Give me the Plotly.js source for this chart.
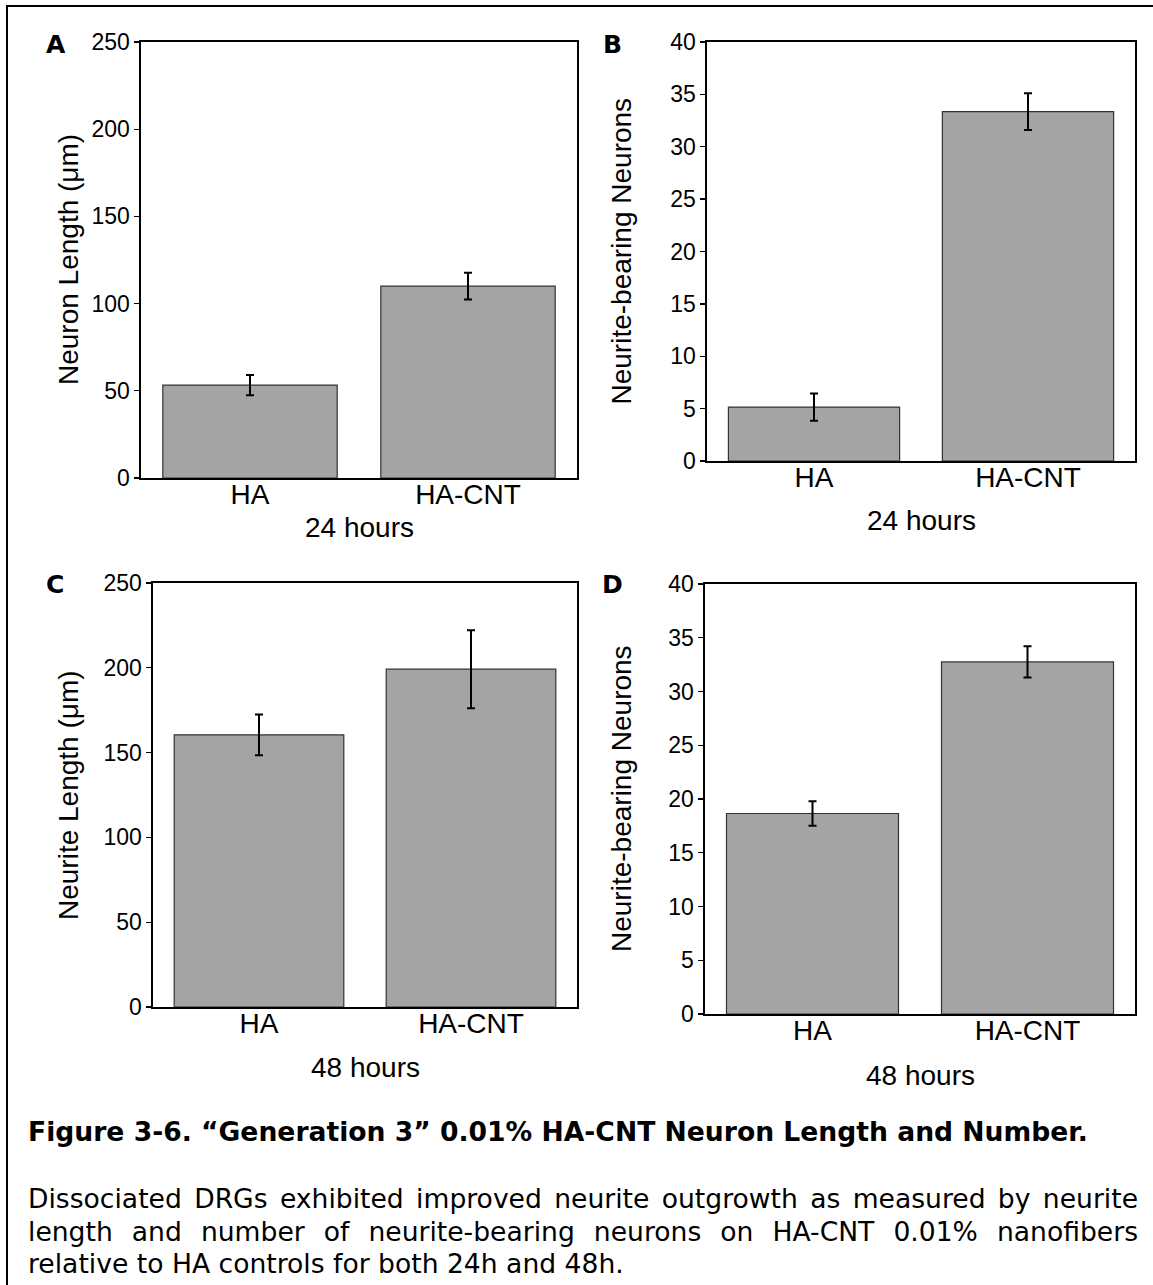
<!DOCTYPE html>
<html>
<head>
<meta charset="utf-8">
<script src="https://cdn.plot.ly/plotly-3.0.1.min.js"></script>
<style>
  html, body { margin: 0; padding: 0; background: #fff; }
  #page { position: relative; width: 1153px; height: 1285px; overflow: hidden; background: #fff; }
  #frameTop { position: absolute; left: 6px; top: 5px; width: 1147px; height: 2px; background: #000; }
  #frameLeft { position: absolute; left: 6px; top: 5px; width: 2px; height: 1280px; background: #000; }
  #chart { position: absolute; left: 0; top: 0; width: 1153px; height: 1090px; }
  .cap { position: absolute; left: 28px; width: 1110px; font-family: "DejaVu Sans", Verdana, sans-serif; color: #000; white-space: nowrap; }
  #capTitle { top: 1115px; font-size: 26.6px; font-weight: bold; line-height: 33px; }
  .body { font-size: 26.6px; line-height: 33px; }
  .just { text-align: justify; text-align-last: justify; }
</style>
</head>
<body>
<div id="page">
  <div id="chart"></div>
  <div id="frameTop"></div>
  <div id="frameLeft"></div>
  <div id="capTitle" class="cap">Figure 3-6. “Generation 3” 0.01% HA-CNT Neuron Length and Number.</div>
  <div class="cap body just" style="top:1182px;">Dissociated DRGs exhibited improved neurite outgrowth as measured by neurite</div>
  <div class="cap body just" style="top:1215px;">length and number of neurite-bearing neurons on HA-CNT 0.01% nanofibers</div>
  <div class="cap body" style="top:1247px;">relative to HA controls for both 24h and 48h.</div>
</div>
<script>
// ---- data ----
const categories = ['HA', 'HA-CNT'];
const neuronLength24 = [53.3, 110];
const neuronLength24Err = [5.8, 7.7];
const neuriteBearing24 = [5.15, 33.35];
const neuriteBearing24Err = [1.3, 1.75];
const neuriteLength48 = [160.5, 199.2];
const neuriteLength48Err = [12, 23];
const neuriteBearing48 = [18.65, 32.75];
const neuriteBearing48Err = [1.15, 1.45];
const panelLetters = ['A', 'B', 'C', 'D'];
const yTitles = ['Neuron Length (μm)', 'Neurite-bearing Neurons', 'Neurite Length (μm)', 'Neurite-bearing Neurons'];
const xTitles = ['24 hours', '24 hours', '48 hours', '48 hours'];
const yMax = [250, 40, 250, 40];
const yStep = [50, 5, 50, 5];

// ---- layout helpers (pixel boxes of each plot area) ----
const W = 1153, H = 1090;
const fx = p => p / W;
const fy = p => 1 - p / H;
const boxes = [
  {l: 141, r: 577, t: 42, b: 478, letter: [56, 44], ytitle: 68, xtitle: 527},
  {l: 707, r: 1135, t: 42, b: 461, letter: [613, 44], ytitle: 621, xtitle: 520},
  {l: 153, r: 577, t: 583, b: 1007, letter: [55, 584], ytitle: 68, xtitle: 1067},
  {l: 705, r: 1135, t: 584, b: 1014, letter: [613, 584], ytitle: 621, xtitle: 1075}
];
const series = [neuronLength24, neuriteBearing24, neuriteLength48, neuriteBearing48];
const errs = [neuronLength24Err, neuriteBearing24Err, neuriteLength48Err, neuriteBearing48Err];

const FONT = '"Liberation Sans", Arial, sans-serif';
const traces = [];
const layout = {
  width: W, height: H,
  margin: {l: 0, r: 0, t: 0, b: 0},
  paper_bgcolor: 'rgba(0,0,0,0)',
  plot_bgcolor: '#fff',
  showlegend: false,
  bargap: 0.2,
  font: {family: FONT, color: '#000'},
  annotations: []
};

boxes.forEach((bx, i) => {
  const n = i + 1;
  const xa = n === 1 ? 'x' : 'x' + n;
  const ya = n === 1 ? 'y' : 'y' + n;
  traces.push({
    type: 'bar', x: categories, y: series[i],
    xaxis: xa, yaxis: ya,
    marker: {color: '#a4a4a4', line: {color: '#333333', width: 1.2}},
    error_y: {type: 'data', array: errs[i], visible: true, color: '#000', thickness: 2, width: 4},
    hoverinfo: 'skip'
  });
  layout['xaxis' + (n === 1 ? '' : n)] = {
    domain: [fx(bx.l), fx(bx.r)], anchor: ya,
    type: 'category', range: [-0.5, 1.5],
    showline: true, mirror: true, linecolor: '#000', linewidth: 1.6,
    ticks: '', showgrid: false, zeroline: false,
    ticklabelstandoff: -9,
    tickfont: {family: FONT, size: 28, color: '#000'}
  };
  layout['yaxis' + (n === 1 ? '' : n)] = {
    domain: [fy(bx.b), fy(bx.t)], anchor: xa,
    range: [0, yMax[i]], dtick: yStep[i], tick0: 0,
    showline: true, mirror: true, linecolor: '#000', linewidth: 1.6,
    ticks: 'outside', ticklen: 5, tickwidth: 1.3, tickcolor: '#000',
    showgrid: false, zeroline: false,
    tickfont: {family: FONT, size: 23, color: '#000'}
  };
  // right-side inner ticks
  layout['yaxis' + (n + 4)] = {
    overlaying: ya, anchor: xa, side: 'right',
    range: [0, yMax[i]], dtick: yStep[i], tick0: 0,
    showline: false, showgrid: false, zeroline: false,
    ticks: 'inside', ticklen: 8, tickwidth: 1.3, tickcolor: '#000',
    showticklabels: false
  };
  layout.annotations.push(
    {xref: 'paper', yref: 'paper', x: fx(bx.letter[0]), y: fy(bx.letter[1]), text: '<b>' + panelLetters[i] + '</b>',
     showarrow: false, xanchor: 'center', yanchor: 'middle',
     font: {family: '"DejaVu Sans", sans-serif', size: 25, color: '#000'}},
    {xref: 'paper', yref: 'paper', x: fx(bx.ytitle), y: fy((bx.t + bx.b) / 2), text: yTitles[i],
     textangle: -90, showarrow: false, xanchor: 'center', yanchor: 'middle',
     font: {family: FONT, size: 28, color: '#000'}},
    {xref: 'paper', yref: 'paper', x: fx((bx.l + bx.r) / 2), y: fy(bx.xtitle), text: xTitles[i],
     showarrow: false, xanchor: 'center', yanchor: 'middle',
     font: {family: FONT, size: 28, color: '#000'}}
  );
});

Plotly.newPlot('chart', traces, layout, {displayModeBar: false, staticPlot: true});
</script>
</body>
</html>
